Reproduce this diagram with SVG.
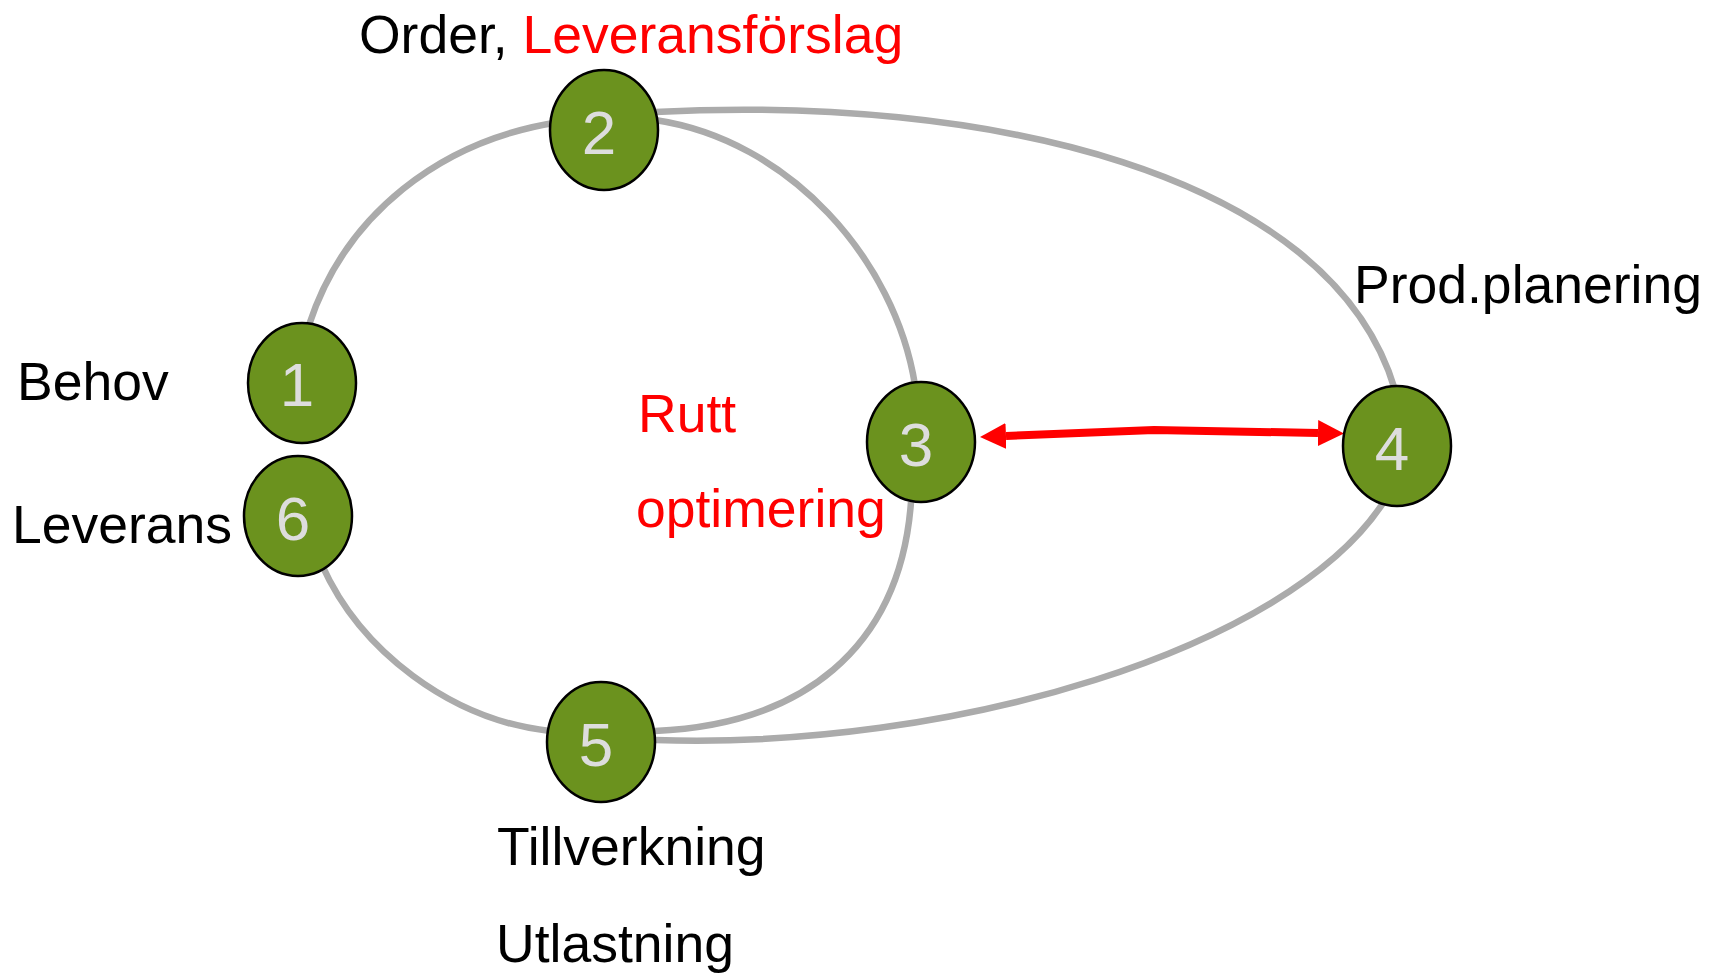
<svg xmlns="http://www.w3.org/2000/svg" width="1713" height="973" viewBox="0 0 1713 973">
<defs>
<style>
.edge{fill:none;stroke:#ABABAB;stroke-width:6.5}
.node{fill:#6B921E;stroke:#000;stroke-width:2.5}
.num{font-family:"Liberation Sans",Arial,sans-serif;font-size:62px;fill:#DDDDDD;text-anchor:middle}
.lbl{font-family:"Liberation Sans",Arial,sans-serif;font-size:53.5px;fill:#000}
.red{fill:#FF0000}
.arrow{fill:none;stroke:#FF0000;stroke-width:8}
</style>
<marker id="ah" markerUnits="userSpaceOnUse" markerWidth="26" markerHeight="26" refX="0" refY="13" orient="auto-start-reverse" viewBox="0 0 26 26">
<path d="M0,0 L26,13 L0,26 z" fill="#FF0000"/>
</marker>
</defs>
<rect width="1713" height="973" fill="#FFFFFF"/>
<g id="connectors">
<path class="edge" d="M309 325 C345 215,440 140,560 122"/>
<path class="edge" d="M655 120 C790 140,895 260,915 385"/>
<path class="edge" d="M911 502 C900 650,800 725,655 731"/>
<path class="edge" d="M322 565 C360 650,450 720,550 731"/>
<path class="edge" d="M655 112 C980 95,1330 170,1395 390"/>
<path class="edge" d="M655 740 C950 750,1290 650,1385 500"/>
<path class="arrow" d="M1006 436 L1154 430 L1318 433" marker-start="url(#ah)" marker-end="url(#ah)"/>
</g>
<g id="node1"><ellipse class="node" cx="302" cy="383" rx="54" ry="60"/><text class="num" x="297" y="406">1</text></g>
<g id="node2"><ellipse class="node" cx="604" cy="130" rx="54" ry="60"/><text class="num" x="599" y="154">2</text></g>
<g id="node3"><ellipse class="node" cx="921" cy="442" rx="54" ry="60"/><text class="num" x="916" y="466">3</text></g>
<g id="node4"><ellipse class="node" cx="1397" cy="446" rx="54" ry="60"/><text class="num" x="1392" y="470">4</text></g>
<g id="node5"><ellipse class="node" cx="601" cy="742" rx="54" ry="60"/><text class="num" x="596" y="766">5</text></g>
<g id="node6"><ellipse class="node" cx="298" cy="516" rx="54" ry="60"/><text class="num" x="293" y="540">6</text></g>
<g id="labels">
<text class="lbl" x="359" y="53">Order, <tspan class="red">Leveransförslag</tspan></text>
<text class="lbl" x="17" y="400">Behov</text>
<text class="lbl" x="12" y="543">Leverans</text>
<text class="lbl red" x="638" y="432">Rutt</text>
<text class="lbl red" x="636" y="527">optimering</text>
<text class="lbl" x="497" y="865">Tillverkning</text>
<text class="lbl" x="496" y="962">Utlastning</text>
<text class="lbl" x="1354" y="303">Prod.planering</text>
</g>
</svg>
